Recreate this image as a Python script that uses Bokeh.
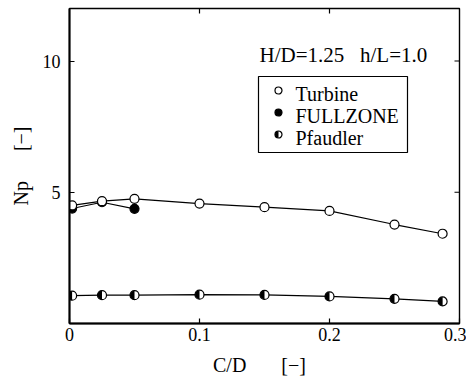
import numpy as np
from bokeh.plotting import figure
from bokeh.models import Range1d, FixedTicker, BoxAnnotation, Label
from bokeh.embed import file_html
from bokeh.resources import INLINE

# ---- data ----
cd_turbine = [0.002, 0.025, 0.05, 0.10, 0.15, 0.20, 0.25, 0.287]
np_turbine = [4.50, 4.66, 4.75, 4.57, 4.43, 4.29, 3.77, 3.42]
cd_fullzone = [0.002, 0.025, 0.05]
np_fullzone = [4.38, 4.62, 4.37]
cd_pfaudler = [0.002, 0.025, 0.05, 0.10, 0.15, 0.20, 0.25, 0.287]
np_pfaudler = [1.06, 1.08, 1.08, 1.10, 1.09, 1.03, 0.94, 0.84]

x_ticks = [0, 0.1, 0.2, 0.3]
x_tick_labels = ["0", "0.1", "0.2", "0.3"]
y_ticks = [5, 10]
y_tick_labels = ["5", "10"]
series_names = ["Turbine", "FULLZONE", "Pfaudler"]
condition_text = "H/D=1.25\u00a0\u00a0\u00a0h/L=1.0"
x_title = "C/D\u00a0\u00a0\u00a0\u00a0\u00a0\u00a0\u00a0[\u2212]\u00a0\u00a0"
y_title = "Np\u00a0\u00a0\u00a0\u00a0\u00a0\u00a0[\u2212]"

X_MIN, X_MAX = 0, 0.3
Y_MIN, Y_MAX = 0, 12
FONT = "Liberation Serif"

p = figure(width=466, height=384, x_range=Range1d(X_MIN, X_MAX), y_range=Range1d(Y_MIN, Y_MAX),
           output_backend="svg", toolbar_location=None,
           min_border_left=69, min_border_right=7, min_border_top=8, min_border_bottom=61)
p.background_fill_color = "white"
p.border_fill_color = "white"
p.outline_line_color = "black"
p.outline_line_width = 1.4
p.xgrid.visible = False
p.ygrid.visible = False

def style_axis(ax, ticks, labels):
    ax.ticker = FixedTicker(ticks=ticks)
    ax.major_label_overrides = {t: l for t, l in zip(ticks, labels)}
    ax.major_tick_in = 5
    ax.major_tick_out = 0
    ax.major_tick_line_color = "black"
    ax.major_tick_line_width = 1.2
    ax.minor_tick_line_color = None
    ax.major_label_text_font = FONT
    ax.major_label_text_color = "black"
    ax.major_label_text_font_size = "18px"

xa = p.xaxis[0]
ya = p.yaxis[0]
style_axis(xa, x_ticks, x_tick_labels)
style_axis(ya, y_ticks, y_tick_labels)
xa.axis_line_width = 2
ya.axis_line_width = 2
xa.major_label_standoff = 4
ya.major_label_standoff = 9
xa.axis_label = x_title
ya.axis_label = y_title
for ax in (xa, ya):
    ax.axis_label_text_font = FONT
    ax.axis_label_text_font_size = "20px"
    ax.axis_label_text_font_style = "normal"
    ax.axis_label_text_color = "black"
xa.axis_label_standoff = 10
ya.axis_label_standoff = 8

# mirrored inward ticks on the top and right edges (clipped to the frame)
top_ticks = x_ticks[1:-1]
p.scatter(top_ticks, [Y_MAX] * len(top_ticks), marker="dash", size=10, angle=np.pi / 2,
          line_color="black", line_width=1.2)
p.scatter([X_MAX] * len(y_ticks), y_ticks, marker="dash", size=10, angle=0,
          line_color="black", line_width=1.2)

# ---- data series ----
p.line(cd_fullzone, np_fullzone, line_color="black", line_width=1.2)
p.line(cd_turbine, np_turbine, line_color="black", line_width=1.2)
p.line(cd_pfaudler, np_pfaudler, line_color="black", line_width=1.2)
p.scatter(cd_fullzone, np_fullzone, size=9, marker="circle",
          fill_color="black", line_color="black", line_width=1.2)
p.scatter(cd_turbine, np_turbine, size=9, marker="circle",
          fill_color="white", line_color="black", line_width=1.2)
p.scatter(cd_pfaudler, np_pfaudler, size=9, marker="circle",
          fill_color="white", line_color="black", line_width=1.2)
p.wedge(cd_pfaudler, np_pfaudler, radius=4.5, radius_units="screen",
        start_angle=np.pi / 2, end_angle=3 * np.pi / 2,
        fill_color="black", line_color=None)

# ---- legend (drawn in a pixel-based helper range of the frame) ----
p.extra_x_ranges = {"lx": Range1d(0, 390)}
p.extra_y_ranges = {"ly": Range1d(0, 315)}
box = BoxAnnotation(left=189, right=338, bottom=171, top=247,
                    x_range_name="lx", y_range_name="ly",
                    fill_color=None, line_color="black", line_width=1.2,
                    line_alpha=1.0)
p.add_layout(box)

row_y = [233 - 22 * i for i in range(3)]
mx = [209] * 3
p.scatter(mx[0:1], row_y[0:1], x_range_name="lx", y_range_name="ly", size=7,
          fill_color="white", line_color="black", line_width=1.2)
p.scatter(mx[1:2], row_y[1:2], x_range_name="lx", y_range_name="ly", size=7,
          fill_color="black", line_color="black", line_width=1.2)
p.scatter(mx[2:3], row_y[2:3], x_range_name="lx", y_range_name="ly", size=7,
          fill_color="white", line_color="black", line_width=1.2)
p.wedge(mx[2:3], row_y[2:3], x_range_name="lx", y_range_name="ly",
        radius=3.5, radius_units="screen", start_angle=np.pi / 2,
        end_angle=3 * np.pi / 2, fill_color="black", line_color=None)

for name, yy in zip(series_names, row_y):
    p.add_layout(Label(x=226, y=yy - 3, x_range_name="lx", y_range_name="ly",
                       text=name, text_font=FONT, text_font_size="20px",
                       text_color="black", text_baseline="alphabetic"))

p.add_layout(Label(x=190, y=269, x_range_name="lx", y_range_name="ly",
                   text=condition_text, text_font=FONT, text_font_size="21px",
                   text_color="black", text_baseline="alphabetic"))

open("out.html", "w").write(file_html(p, INLINE))
